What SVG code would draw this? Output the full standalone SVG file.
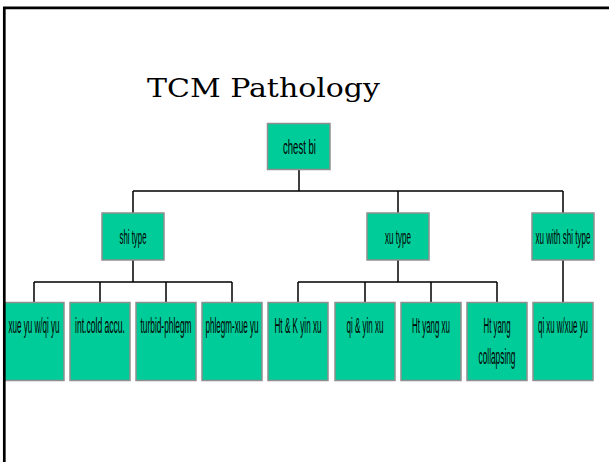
<svg xmlns="http://www.w3.org/2000/svg" width="609" height="462" viewBox="0 0 609 462">
<style>
.box rect{fill:#00CC99;stroke:#8f8f8f;stroke-width:1.5}
.box text{font-family:"Liberation Sans",Arial,sans-serif;font-size:20px;fill:#000;text-anchor:middle}
.box text.b{font-size:22px}
.conn path{fill:none;stroke:#000;stroke-width:1.5}
.title{font-family:"DejaVu Serif","Liberation Serif",serif;font-size:26px;fill:#000;text-anchor:middle}
</style>
<rect x="0" y="0" width="609" height="462" fill="#fff"/>
<text class="title" x="263.5" y="97" textLength="233" lengthAdjust="spacingAndGlyphs">TCM Pathology</text>
<g id="connectors" class="conn">
<path d="M299,169V191M133,191H563M133,191V213M398,191V213M563,191V213"/>
<path d="M133,260V282M34,282H232M34,282V302M100,282V302M166,282V302M232,282V302"/>
<path d="M398,260V282M298,282H497M298,282V302M365,282V302M431,282V302M497,282V302"/>
<path d="M563,260V302"/>
</g>
<g id="chest-bi" class="box"><rect x="267.5" y="123.5" width="62.5" height="46"/><text transform="translate(299.5,154) scale(0.479,1)">chest bi</text></g>
<g id="shi-type" class="box"><rect x="102" y="213" width="62" height="47"/><text transform="translate(133,244) scale(0.392,1)">shi type</text></g>
<g id="xu-type" class="box"><rect x="367" y="213" width="62" height="47"/><text transform="translate(398,244) scale(0.403,1)">xu type</text></g>
<g id="xu-with-shi-type" class="box"><rect x="532" y="213" width="62" height="47"/><text transform="translate(563,244) scale(0.402,1)">xu with shi type</text></g>
<g id="xue-yu-wqi-yu" class="box"><rect x="4" y="302.5" width="60" height="78"/><text class="b" transform="translate(34,333) scale(0.366,1)">xue yu w/qi yu</text></g>
<g id="int-cold-accu" class="box"><rect x="70" y="302.5" width="60" height="78"/><text class="b" transform="translate(100,333) scale(0.389,1)">int.cold accu.</text></g>
<g id="turbid-phlegm" class="box"><rect x="136" y="302.5" width="60" height="78"/><text class="b" transform="translate(166,333) scale(0.379,1)">turbid-phlegm</text></g>
<g id="phlegm-xue-yu" class="box"><rect x="202" y="302.5" width="60" height="78"/><text class="b" transform="translate(232,333) scale(0.367,1)">phlegm-xue yu</text></g>
<g id="ht-k-yin-xu" class="box"><rect x="268" y="302.5" width="60" height="78"/><text class="b" transform="translate(298,333) scale(0.37,1)">Ht &amp; K yin xu</text></g>
<g id="qi-yin-xu" class="box"><rect x="335" y="302.5" width="60" height="78"/><text class="b" transform="translate(365,333) scale(0.365,1)">qi &amp; yin xu</text></g>
<g id="ht-yang-xu" class="box"><rect x="401" y="302.5" width="60" height="78"/><text class="b" transform="translate(431,333) scale(0.361,1)">Ht yang xu</text></g>
<g id="ht-yang-collapsing" class="box"><rect x="467" y="302.5" width="60" height="78"/><text class="b" transform="translate(497,333) scale(0.356,1)">Ht yang</text><text class="b" transform="translate(497,364) scale(0.378,1)">collapsing</text></g>
<g id="qi-xu-wxue-yu" class="box"><rect x="533" y="302.5" width="60" height="78"/><text class="b" transform="translate(563,333) scale(0.359,1)">qi xu w/xue yu</text></g>
<path d="M4.3,462V7.8H609" fill="none" stroke="#000" stroke-width="2.7"/>
</svg>
